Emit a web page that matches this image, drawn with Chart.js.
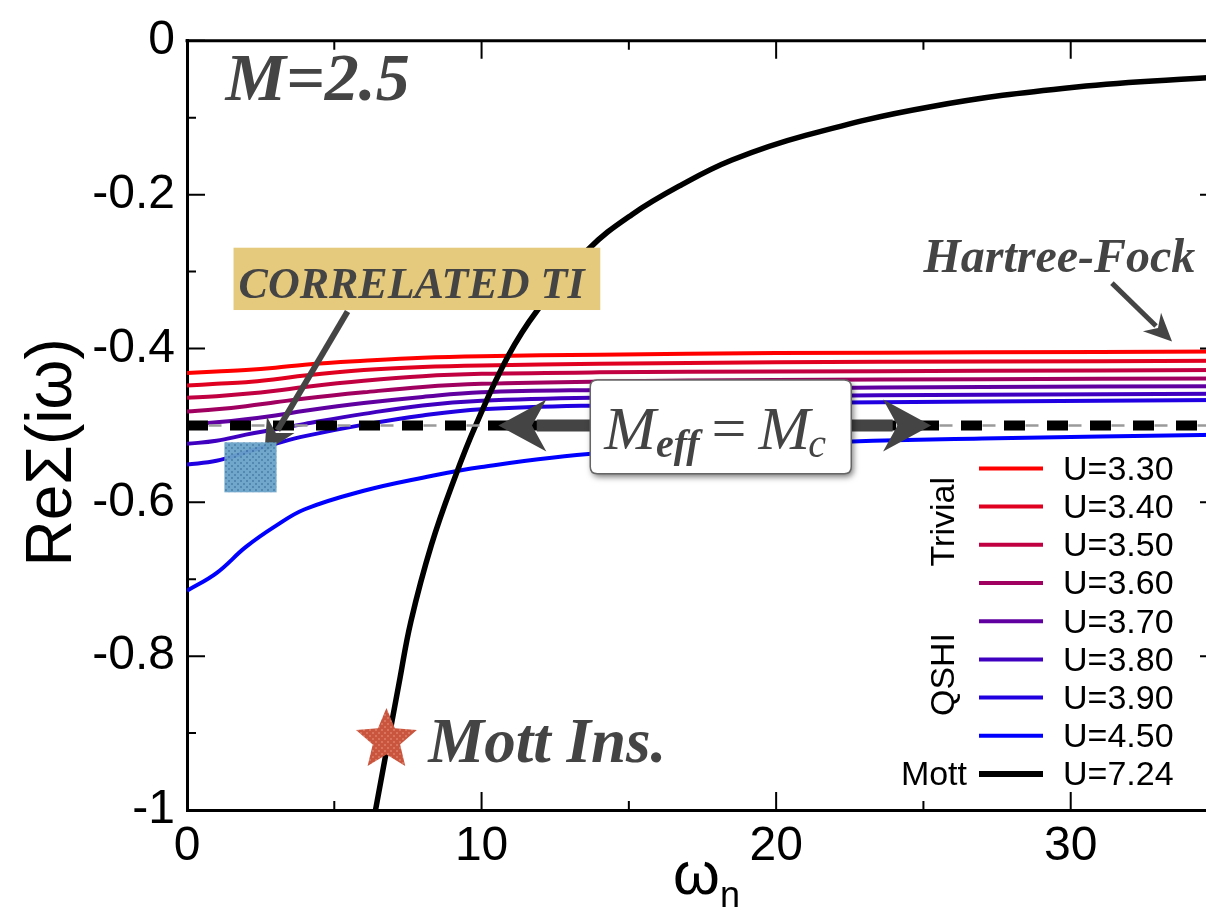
<!DOCTYPE html>
<html>
<head>
<meta charset="utf-8">
<title>Re Sigma(i omega), M=2.5</title>
<script src="https://cdn.jsdelivr.net/npm/chart.js@4.4.0/dist/chart.umd.min.js"></script>
<style>
html, body { margin: 0; padding: 0; background: #fff; overflow: hidden; }
#wrap { width: 1230px; height: 910px; }
</style>
</head>
<body>
<div id="wrap"><canvas id="sigma-chart" width="1230" height="910"></canvas></div>
<script>
// Matsubara frequencies where the DMFT curves were read
const omegaN = [0, 1, 2, 3, 4, 6, 8, 10, 14, 20, 27, 35]

const reSigmaU330 = [-0.432, -0.430, -0.428, -0.425, -0.421, -0.416, -0.412, -0.410, -0.408, -0.406, -0.405, -0.404]
const reSigmaU340 = [-0.448, -0.446, -0.444, -0.440, -0.435, -0.428, -0.424, -0.422, -0.420, -0.418, -0.417, -0.416]
const reSigmaU350 = [-0.464, -0.462, -0.459, -0.455, -0.450, -0.442, -0.436, -0.433, -0.431, -0.430, -0.429, -0.428]
const reSigmaU360 = [-0.482, -0.479, -0.475, -0.470, -0.465, -0.457, -0.450, -0.446, -0.443, -0.441, -0.440, -0.439]
const reSigmaU370 = [-0.499, -0.496, -0.492, -0.487, -0.481, -0.471, -0.463, -0.457, -0.454, -0.452, -0.450, -0.449]
const reSigmaU380 = [-0.524, -0.520, -0.512, -0.505, -0.498, -0.485, -0.474, -0.468, -0.464, -0.462, -0.460, -0.459]
const reSigmaU390 = [-0.551, -0.546, -0.535, -0.524, -0.514, -0.499, -0.487, -0.479, -0.474, -0.471, -0.469, -0.467]
const reSigmaU450 = [-0.715, -0.692, -0.658, -0.631, -0.609, -0.585, -0.568, -0.554, -0.536, -0.524, -0.517, -0.512]

// Mott insulator curve, U=7.24
const mottOmega = [6.4, 7.2, 7.6, 8.3, 9.1, 9.8, 10.9, 11.9, 13.6, 15.1, 16.8, 18.5, 21, 25.2, 30.2, 35]
const mottReSigma = [-1.0, -0.835, -0.755, -0.655, -0.567, -0.50, -0.41, -0.35, -0.272, -0.226, -0.187, -0.155, -0.123, -0.086, -0.060, -0.047]

// Meff = Mc level
const criticalOmega = [0, 35]
const criticalReSigma = [-0.5, -0.5]

const uLabels = ['U=3.30', 'U=3.40', 'U=3.50', 'U=3.60', 'U=3.70', 'U=3.80', 'U=3.90', 'U=4.50', 'U=7.24']
const curveColors = ['#ff0000', '#e00020', '#c00040', '#a00060', '#6000a0', '#4000c0', '#2000e0', '#0000ff', '#000000']
const phaseNames = ['Trivial', 'QSHI', 'Mott']
const phaseRows = [[0, 3], [4, 7], [8, 8]]

const xTickValues = [0, 10, 20, 30]
const yTickValues = [0, -0.2, -0.4, -0.6, -0.8, -1]

const sansFont = '"Liberation Sans", Arial, sans-serif'
const serifFont = '"Liberation Serif", "Times New Roman", serif'
const annotColor = '#444444'

function toPoints(xs, ys) {
    return xs.map((x, i) => ({x: x, y: ys[i]}))
}

function makePattern(base, dot) {
    const c = document.createElement('canvas')
    c.width = 6
    c.height = 6
    const g = c.getContext('2d')
    g.fillStyle = base
    g.fillRect(0, 0, 6, 6)
    g.fillStyle = dot
    g.fillRect(0, 0, 2, 2)
    g.fillRect(3, 3, 2, 2)
    return g
}

function drawArrow(ctx, x1, y1, x2, y2, lw, headLen, headHalf) {
    const ang = Math.atan2(y2 - y1, x2 - x1)
    const cos = Math.cos(ang), sin = Math.sin(ang)
    const bx = x2 - cos * headLen * 0.8
    const by = y2 - sin * headLen * 0.8
    ctx.save()
    ctx.strokeStyle = annotColor
    ctx.fillStyle = annotColor
    ctx.lineWidth = lw
    ctx.beginPath()
    ctx.moveTo(x1, y1)
    ctx.lineTo(bx, by)
    ctx.stroke()
    ctx.beginPath()
    ctx.moveTo(x2, y2)
    ctx.lineTo(x2 - cos * headLen - sin * headHalf, y2 - sin * headLen + cos * headHalf)
    ctx.lineTo(x2 - cos * headLen * 0.7, y2 - sin * headLen * 0.7)
    ctx.lineTo(x2 - cos * headLen + sin * headHalf, y2 - sin * headLen - cos * headHalf)
    ctx.closePath()
    ctx.fill()
    ctx.restore()
}

function drawStar(ctx, cx, cy, r) {
    ctx.beginPath()
    for (let i = 0; i < 10; i++) {
        const rr = i % 2 == 0 ? r : r * 0.45
        const a = -Math.PI / 2 + i * Math.PI / 5
        const x = cx + rr * Math.cos(a)
        const y = cy + rr * Math.sin(a)
        if (i == 0) ctx.moveTo(x, y)
        else ctx.lineTo(x, y)
    }
    ctx.closePath()
}

function roundRect(ctx, x, y, w, h, r) {
    ctx.beginPath()
    ctx.moveTo(x + r, y)
    ctx.lineTo(x + w - r, y)
    ctx.quadraticCurveTo(x + w, y, x + w, y + r)
    ctx.lineTo(x + w, y + h - r)
    ctx.quadraticCurveTo(x + w, y + h, x + w - r, y + h)
    ctx.lineTo(x + r, y + h)
    ctx.quadraticCurveTo(x, y + h, x, y + h - r)
    ctx.lineTo(x, y + r)
    ctx.quadraticCurveTo(x, y, x + r, y)
    ctx.closePath()
}

// inward ticks, top frame line, axis titles
const framePlugin = {
    id: 'frame',
    afterDraw(chart) {
        const ctx = chart.ctx
        const a = chart.chartArea
        const xs = chart.scales.x
        const ys = chart.scales.y
        ctx.save()
        ctx.strokeStyle = '#000'
        ctx.lineWidth = 3
        ctx.beginPath()
        ctx.moveTo(a.left - 1.5, a.top)
        ctx.lineTo(a.right, a.top)
        ctx.stroke()

        ctx.lineWidth = 2
        for (let i = 0; i <= 10; i++) {
            const y = ys.getPixelForValue(-i / 10)
            const len = i % 2 == 0 ? 18 : 9
            ctx.beginPath()
            ctx.moveTo(a.left, y)
            ctx.lineTo(a.left + len, y)
            ctx.moveTo(a.right, y)
            ctx.lineTo(a.right - len, y)
            ctx.stroke()
        }
        for (let v = 5; v < 35; v += 5) {
            const x = xs.getPixelForValue(v)
            const len = v % 10 == 0 ? 18 : 9
            ctx.beginPath()
            ctx.moveTo(x, a.bottom)
            ctx.lineTo(x, a.bottom - len)
            ctx.moveTo(x, a.top)
            ctx.lineTo(x, a.top + len)
            ctx.stroke()
        }

        // axis titles
        ctx.fillStyle = '#000'
        ctx.save()
        ctx.translate(a.left - 116, (a.top + a.bottom) / 2 + 27)
        ctx.rotate(-Math.PI / 2)
        ctx.font = '64px ' + sansFont
        ctx.textAlign = 'center'
        ctx.textBaseline = 'alphabetic'
        ctx.fillText('ReΣ(iω)', 0, 0)
        ctx.restore()

        ctx.font = '60px ' + sansFont
        ctx.textAlign = 'left'
        ctx.textBaseline = 'alphabetic'
        const wx = xs.getPixelForValue(16.5)
        ctx.fillText('ω', wx, a.bottom + 84)
        const ww = ctx.measureText('ω').width
        ctx.font = '36px ' + sansFont
        ctx.fillText('n', wx + ww, a.bottom + 97)

        drawLegend(chart)
        ctx.restore()
    }
}

function drawLegend(chart) {
    const ctx = chart.ctx
    const a = chart.chartArea
    const rowH = 38.2
    const firstY = a.bottom - 36 - 8 * rowH
    const lineX = a.left + 792
    ctx.save()
    ctx.font = '34px ' + sansFont
    ctx.fillStyle = '#000'
    ctx.textBaseline = 'middle'
    uLabels.forEach((lab, i) => {
        const y = firstY + i * rowH
        ctx.strokeStyle = curveColors[i]
        ctx.lineWidth = i == 8 ? 6 : 4
        ctx.beginPath()
        ctx.moveTo(lineX, y)
        ctx.lineTo(lineX + 64, y)
        ctx.stroke()
        ctx.textAlign = 'left'
        ctx.fillText(lab, lineX + 84, y + 2)
    })
    phaseNames.forEach((name, k) => {
        const yc = firstY + (phaseRows[k][0] + phaseRows[k][1]) / 2 * rowH
        if (phaseRows[k][0] == phaseRows[k][1]) {
            ctx.textAlign = 'right'
            ctx.fillText(name, lineX - 12, yc + 2)
        } else {
            ctx.save()
            ctx.translate(lineX - 34, yc - 4)
            ctx.rotate(-Math.PI / 2)
            ctx.textAlign = 'center'
            ctx.fillText(name, 0, 0)
            ctx.restore()
        }
    })
    ctx.restore()
}

// text boxes, arrows and markers on the plot
const notesPlugin = {
    id: 'notes',
    afterDatasetsDraw(chart) {
        const ctx = chart.ctx
        const X = v => chart.scales.x.getPixelForValue(v)
        const Y = v => chart.scales.y.getPixelForValue(v)
        ctx.save()

        // M=2.5
        ctx.fillStyle = annotColor
        ctx.font = 'italic bold 68px ' + serifFont
        ctx.textAlign = 'left'
        ctx.textBaseline = 'alphabetic'
        ctx.fillText('M=2.5', X(1.31), Y(-0.077))

        // Hartree-Fock
        ctx.font = 'italic bold 48px ' + serifFont
        ctx.fillText('Hartree-Fock', X(25.0), Y(-0.301))
        drawArrow(ctx, X(31.4), Y(-0.315), X(33.44), Y(-0.391), 5, 28, 13)

        // correlated TI box
        ctx.fillStyle = '#e5c97c'
        ctx.fillRect(X(1.58), Y(-0.269), X(14.03) - X(1.58), Y(-0.350) - Y(-0.269))
        ctx.fillStyle = annotColor
        ctx.font = 'italic bold 44px ' + serifFont
        ctx.fillText('CORRELATED TI', X(1.75), Y(-0.334))
        drawArrow(ctx, X(5.45), Y(-0.352), X(2.63), Y(-0.535), 6, 32, 16)

        // blue marker square
        const blue = makePattern('#6aa3c9', '#4a82ad')
        ctx.fillStyle = ctx.createPattern(blue.canvas, 'repeat')
        ctx.globalAlpha = 0.95
        ctx.fillRect(X(1.27), Y(-0.522), X(3.04) - X(1.27), Y(-0.587) - Y(-0.522))
        ctx.globalAlpha = 1

        // Meff = Mc double arrow
        const ay = Y(-0.5)
        drawArrow(ctx, X(18), ay, X(10.57), ay, 12, 48, 26)
        drawArrow(ctx, X(18), ay, X(25.26), ay, 12, 48, 26)

        const bx = X(13.69), by = Y(-0.441)
        const bw = X(22.55) - bx, bh = Y(-0.563) - by
        ctx.save()
        ctx.shadowColor = 'rgba(0,0,0,0.55)'
        ctx.shadowBlur = 6
        ctx.shadowOffsetX = 2
        ctx.shadowOffsetY = 3
        roundRect(ctx, bx, by, bw, bh, 7)
        ctx.fillStyle = '#fff'
        ctx.fill()
        ctx.restore()
        roundRect(ctx, bx, by, bw, bh, 7)
        ctx.strokeStyle = '#666'
        ctx.lineWidth = 1.5
        ctx.stroke()

        ctx.fillStyle = annotColor
        const base = by + bh * 0.74
        let tx = bx + 14
        ctx.font = 'italic 62px ' + serifFont
        ctx.fillText('M', tx, base)
        tx += ctx.measureText('M').width
        ctx.font = 'italic bold 40px ' + serifFont
        ctx.fillText('eff', tx, base + 8)
        tx += ctx.measureText('eff').width + 12
        ctx.font = '62px ' + serifFont
        ctx.fillText('=', tx, base)
        tx += ctx.measureText('=').width + 12
        ctx.font = 'italic 62px ' + serifFont
        ctx.fillText('M', tx, base)
        tx += ctx.measureText('M').width - 2
        ctx.font = 'italic 40px ' + serifFont
        ctx.fillText('c', tx, base + 8)

        // Mott insulator star
        const red = makePattern('#c9553f', '#d9735c')
        ctx.fillStyle = ctx.createPattern(red.canvas, 'repeat')
        drawStar(ctx, X(6.77), Y(-0.909), 32)
        ctx.fill()
        ctx.fillStyle = annotColor
        ctx.font = 'italic bold 63px ' + serifFont
        ctx.fillText('Mott Ins.', X(8.19), Y(-0.938))

        ctx.restore()
    }
}

const curveValues = [reSigmaU330, reSigmaU340, reSigmaU350, reSigmaU360, reSigmaU370, reSigmaU380, reSigmaU390, reSigmaU450]

const datasets = []
datasets.push({
    label: 'Mc dashes',
    data: toPoints(criticalOmega, criticalReSigma),
    borderColor: '#000',
    borderWidth: 10,
    borderDash: [21, 22],
    pointRadius: 0,
    order: 0
})
datasets.push({
    label: 'Mc line',
    data: toPoints(criticalOmega, criticalReSigma),
    borderColor: '#9a9a9a',
    borderWidth: 2.5,
    borderDash: [13, 8.5],
    pointRadius: 0,
    order: 1
})
datasets.push({
    label: uLabels[8],
    data: toPoints(mottOmega, mottReSigma),
    borderColor: curveColors[8],
    borderWidth: 5.5,
    pointRadius: 0,
    tension: 0.4,
    order: 2
})
curveValues.forEach((vals, i) => {
    datasets.push({
        label: uLabels[i],
        data: toPoints(omegaN, vals),
        borderColor: curveColors[i],
        borderWidth: 4,
        pointRadius: 0,
        tension: 0.4,
        order: 3 + (7 - i)
    })
})

const config = {
    type: 'line',
    data: {datasets: datasets},
    options: {
        responsive: false,
        animation: false,
        layout: {padding: {top: 32, right: 12, left: 0, bottom: 0}},
        plugins: {
            legend: {display: false},
            tooltip: {enabled: false}
        },
        scales: {
            x: {
                type: 'linear',
                min: 0,
                max: 35,
                grid: {display: false, drawTicks: false},
                border: {display: true, color: '#000', width: 3},
                afterFit: (scale) => { scale.height = 100 },
                afterBuildTicks: (scale) => { scale.ticks = xTickValues.map(v => ({value: v})) },
                ticks: {
                    color: '#000',
                    padding: 8,
                    font: {family: sansFont, size: 48},
                    maxRotation: 0
                }
            },
            y: {
                type: 'linear',
                min: -1,
                max: 0,
                grid: {display: false, drawTicks: false},
                border: {display: true, color: '#000', width: 3},
                afterFit: (scale) => { scale.width = 187 },
                afterBuildTicks: (scale) => { scale.ticks = yTickValues.map(v => ({value: v})) },
                ticks: {
                    color: '#000',
                    padding: 12,
                    font: {family: sansFont, size: 48},
                    callback: (v) => String(Math.round(v * 10) / 10)
                }
            }
        }
    },
    plugins: [notesPlugin, framePlugin]
}

new Chart(document.getElementById('sigma-chart'), config)
</script>
</body>
</html>
